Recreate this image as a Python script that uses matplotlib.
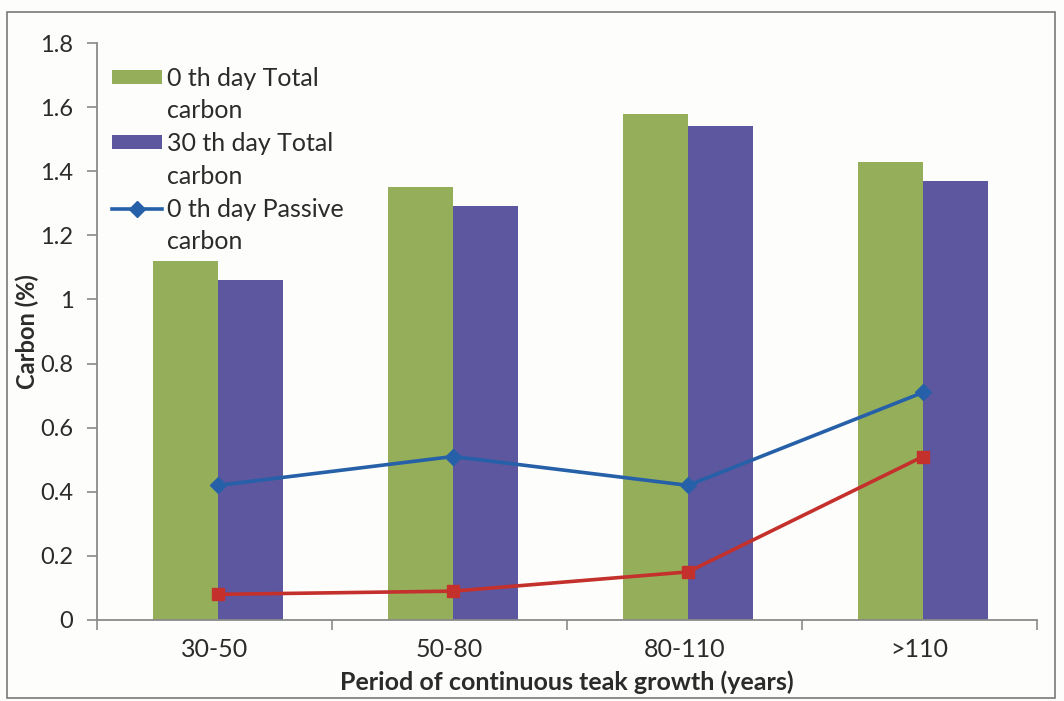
import numpy as np
import matplotlib
matplotlib.use("Agg")
import matplotlib.pyplot as plt
from matplotlib.patches import Rectangle

# teak growth periods and carbon fractions (%)
periods = ["30-50", "50-80", "80-110", ">110"]
total_day0 = [1.12, 1.35, 1.58, 1.43]
total_day30 = [1.06, 1.29, 1.54, 1.37]
passive_day0 = [0.42, 0.51, 0.42, 0.71]
passive_day30 = [0.08, 0.09, 0.15, 0.51]

plt.rcParams['font.family'] = ['Lato', 'DejaVu Sans']

fig = plt.figure(figsize=(10.64, 7.01), dpi=100)
fig.patch.set_facecolor("#fdfdfb")
ax = fig.add_axes([97 / 1064, 1 - 620 / 701, 940 / 1064, 577 / 701])
ax.set_facecolor("#fdfdfb")

x = np.arange(len(periods))
w = 0.275
b0 = ax.bar(x - w / 2 + 0.015, total_day0, w, color="#95ae5a")
b30 = ax.bar(x + w / 2 + 0.015, total_day30, w, color="#5c579f")
l0, = ax.plot(x + 0.015, passive_day0, color="#2560a8", lw=2.6, marker="D", ms=8)
ax.plot(x + 0.015, passive_day30, color="#c4302b", lw=2.6, marker="s", ms=9)

ax.set_xlim(-0.5, 3.5)
ax.set_ylim(0, 1.8)
ax.set_yticks(np.arange(0, 1.81, 0.2))
ax.set_yticklabels(["0", "0.2", "0.4", "0.6", "0.8", "1", "1.2", "1.4", "1.6", "1.8"])
ax.set_xticks(x)
ax.set_xticklabels(periods)
ax.set_xticks(np.arange(-0.5, 4, 1), minor=True)

for s in ["top", "right"]:
    ax.spines[s].set_visible(False)
for s in ["left", "bottom"]:
    ax.spines[s].set_color("#8a8a8a")
    ax.spines[s].set_linewidth(1.3)

ax.tick_params(axis="y", labelsize=17, colors="#8a8a8a", labelcolor="#2b2b2b",
               length=7, width=1.2, pad=10)
ax.tick_params(axis="x", which="major", length=0, labelsize=18,
               labelcolor="#2b2b2b", pad=13)
ax.tick_params(axis="x", which="minor", length=7, width=1.2, colors="#8a8a8a")

ax.set_ylabel("Carbon (%)", fontsize=17, fontweight="bold", color="#2b2b2b",
              labelpad=1)
ax.set_xlabel("Period of continuous teak growth (years)", fontsize=18,
              fontweight="bold", color="#2b2b2b", labelpad=7)

# legend labels wrap onto a second line; the wrapped part gets a blank handle
blank = Rectangle((0, 0), 1, 1, fill=False, edgecolor="none")
leg = ax.legend([b0, blank, b30, blank, l0, blank],
                ["0 th day Total", "carbon", "30 th day Total", "carbon",
                 "0 th day Passive", "carbon"],
                loc="upper left", bbox_to_anchor=(0.0, 0.985), frameon=False,
                fontsize=18, handlelength=2.0, handleheight=0.5,
                handletextpad=0.2, labelspacing=0.39, borderaxespad=0.2,
                labelcolor="#2b2b2b")

# outer border of the chart area
fig.patches.append(Rectangle((7 / 1064, 3 / 701), 1048 / 1064, 686 / 701,
                             transform=fig.transFigure, fill=False,
                             edgecolor="#7a7a7a", lw=1.2))

fig.savefig("out.png", dpi=100, facecolor=fig.get_facecolor())
